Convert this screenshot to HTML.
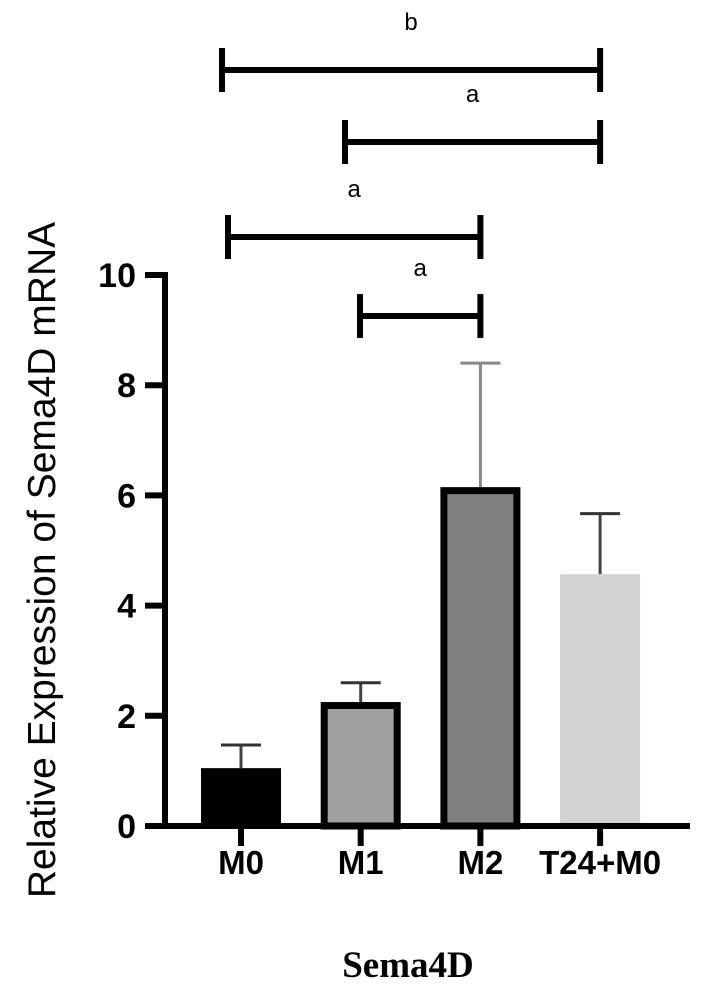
<!DOCTYPE html>
<html><head><meta charset="utf-8"><style>body{margin:0;background:#fff}svg{display:block}</style></head>
<body>
<svg id="c" width="707" height="1000" xmlns="http://www.w3.org/2000/svg"></svg>
<script>
const categories=["M0","M1","M2","T24+M0"];
const means=[1.05,2.25,6.15,4.57];
const errs=[0.42,0.35,2.25,1.1];
const fills=["#000000","#a0a0a0","#808080","#d3d3d3"];
const yTicks=[0,2,4,6,8,10];
const brackets=[{a:0,b:3,lab:"b",y:70},{a:1,b:3,lab:"a",y:142},{a:0,b:2,lab:"a",y:237},{a:1,b:2,lab:"a",y:316}];
const bracketStarts=[222,345,228,360];
const svg=document.getElementById('c');const NS="http://www.w3.org/2000/svg";
const y=v=>826-v*55.1;const x=i=>241+i*119.7;
function el(t,at,name){const e=document.createElementNS(NS,t);for(const k in at)e.setAttribute(k,at[k]);


svg.appendChild(e);return e;}
means.forEach((m,i)=>{
  const cx=x(i),w=80;
  el('line',{x1:cx,x2:cx,y1:y(m),y2:y(m+errs[i]),stroke:i==2?'#888':'#444','stroke-width':3},'error-bar-'+categories[i]);
  el('line',{x1:cx-20,x2:cx+20,y1:y(m+errs[i]),y2:y(m+errs[i]),stroke:i==2?'#888':'#333','stroke-width':3},'error-cap-'+categories[i]);
  if(i==0||i==3) el('rect',{x:cx-w/2,y:y(m),width:w,height:y(0)-y(m),fill:fills[i]},'bar-'+categories[i]);
  else el('rect',{x:cx-w/2+3.5,y:y(m)+3.5,width:w-7,height:y(0)-y(m)-3.5,fill:fills[i],stroke:'#000','stroke-width':7},'bar-'+categories[i]);
  el('line',{x1:cx,x2:cx,y1:826,y2:846,stroke:'#000','stroke-width':6},'x-tick');
  const t=el('text',{x:cx,y:874,'text-anchor':'middle','font-family':'Liberation Sans,sans-serif','font-weight':'bold','font-size':33},'x-tick-label');t.textContent=categories[i];
});
el('line',{x1:165,x2:165,y1:272,y2:829,stroke:'#000','stroke-width':6},'y-axis');
el('line',{x1:162,x2:690,y1:826,y2:826,stroke:'#000','stroke-width':6},'x-axis');
yTicks.forEach(v=>{el('line',{x1:145,x2:165,y1:y(v),y2:y(v),stroke:'#000','stroke-width':6},'y-tick');
 const t=el('text',{x:136,y:y(v)+12,'text-anchor':'end','font-family':'Liberation Sans,sans-serif','font-weight':'bold','font-size':34},'y-tick-label');t.textContent=v;});
brackets.forEach((b,k)=>{const x1=bracketStarts[k],x2=x(b.b);
 el('line',{x1:x1,x2:x2,y1:b.y,y2:b.y,stroke:'#000','stroke-width':6},'significance-bracket');
 el('line',{x1:x1,x2:x1,y1:b.y-22,y2:b.y+22,stroke:'#000','stroke-width':6},'bracket-end');
 el('line',{x1:x2,x2:x2,y1:b.y-22,y2:b.y+22,stroke:'#000','stroke-width':6},'bracket-end');
 const t=el('text',{x:(x1+x2)/2,y:b.y-40,'text-anchor':'middle','font-family':'Liberation Sans,sans-serif','font-size':24},'significance-label');t.textContent=b.lab;});
const yt=el('text',{x:0,y:0,transform:'translate(55,560) rotate(-90)','text-anchor':'middle','font-family':'Liberation Sans,sans-serif','font-size':39},'y-axis-title');yt.textContent="Relative Expression of Sema4D mRNA";
const xt=el('text',{x:408,y:977,'text-anchor':'middle','font-family':'Liberation Serif,serif','font-weight':'bold','font-size':37},'x-axis-title');xt.textContent="Sema4D";
</script>
</body></html>
